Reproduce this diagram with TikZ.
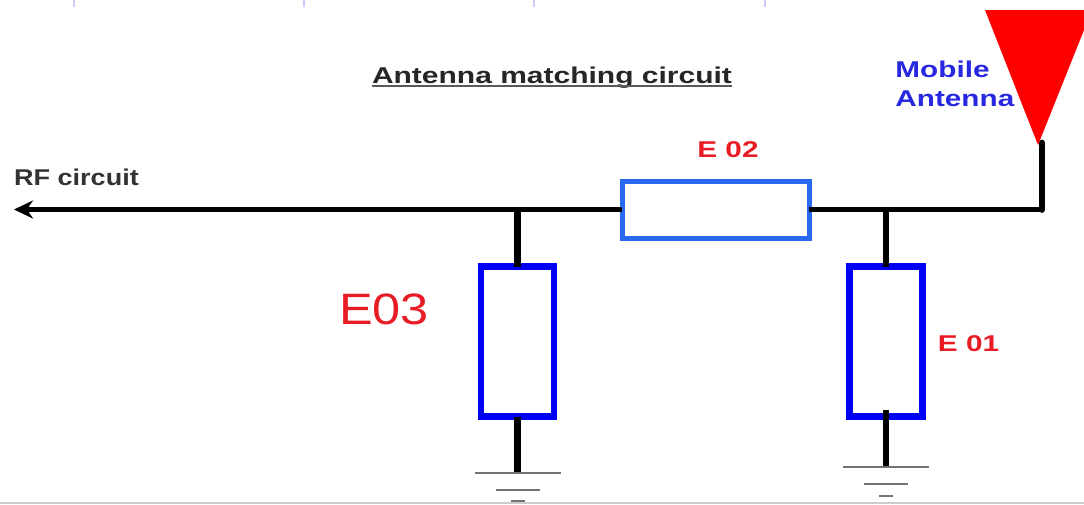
\documentclass[tikz,border=0pt]{standalone}
\usepackage{xcolor}
\usepackage{fontspec}
\setmainfont{Liberation Sans}
\usepackage{tikz}
\usetikzlibrary{arrows.meta, positioning, calc}

\definecolor{elemblue}{RGB}{0,0,245}
\definecolor{seriesblue}{RGB}{40,105,240}
\definecolor{antblue}{RGB}{40,40,225}
\definecolor{elemred}{RGB}{232,28,36}

\begin{document}
\begin{tikzpicture}[x=0.2mm, y=-0.2mm]
	\tikzstyle{shuntbox}=[draw=elemblue, line width=1.3mm, minimum height=30mm, minimum width=14.6mm, outer sep=0pt, fill=none, inner sep=0pt]
	\tikzstyle{seriesbox}=[draw=seriesblue, line width=1mm, minimum height=11.4mm, minimum width=37.4mm, outer sep=0pt, fill=none, inner sep=0pt]
	\tikzstyle{wire}=[line width=1.1mm, black, line join=round]
	\tikzstyle{stemwire}=[line width=1.35mm, black]
	\tikzstyle{gndbar}=[line width=0.4mm, black!55]
	\tikzstyle{rulertick}=[line width=0.25mm, blue!20]
	\tikzstyle{boldlabel}=[font=\fontsize{13}{13}\selectfont\bfseries, inner sep=0pt, anchor=base, xscale=1.3, transform shape]

	\useasboundingbox (0,0) rectangle (1084,504);

	% page ruler and page edge
	\draw [rulertick] (74,0) -- (74,7);
	\draw [rulertick] (304,0) -- (304,7);
	\draw [rulertick] (534,0) -- (534,7);
	\draw [rulertick] (765,0) -- (765,7);
	\draw [line width=0.3mm, black!20] (0,503) -- (1084,503);

	% elements
	\node (e02) at (715.5,209.5) [seriesbox] {};
	\node (e03) at (517.5,341.5) [shuntbox] {};
	\node (e01) at (886,341.5) [shuntbox] {};

	% antenna
	\fill [red] (985,10) -- (1084,10) -- (1084,30) -- (1038,145) -- cycle;
	\coordinate (antbase) at (1042,143);
	\coordinate (wirecorner) at (1042,209.5);
	\coordinate (rfend) at (14,209.5);

	% junctions and ground points
	\coordinate (j03) at (517.5,209.5);
	\coordinate (j01) at (886,209.5);
	\coordinate (gnd03) at (517.5,473);
	\coordinate (gnd01) at (886,467);
	\coordinate (e01foot) at (886,410);

	% wires
	\draw [wire, -{Stealth[length=3.8mm, width=3.6mm]}] (e02.west) -- (rfend);
	\draw [wire] (e02.east) -- (wirecorner);
	\draw [stemwire, line cap=round] (wirecorner) -- (antbase);
	\draw [stemwire] (j03) -- (e03.north);
	\draw [stemwire] (j01) -- (e01.north);
	\draw [stemwire] (e03.south) -- (gnd03);
	\draw [stemwire] (e01foot) -- (gnd01);

	% grounds
	\draw [gndbar] (gnd03)+(-43,0) -- +(43,0);
	\draw [gndbar] (gnd03)+(-22,17) -- +(22,17);
	\draw [gndbar] (gnd03)+(-7,28) -- +(7,28);
	\draw [gndbar] (gnd01)+(-43,0) -- +(43,0);
	\draw [gndbar] (gnd01)+(-22,17) -- +(22,17);
	\draw [gndbar] (gnd01)+(-7,29) -- +(7,29);

	% labels
	\node (title) at (552,83) [boldlabel, xscale=1.01, text=black!85] {Antenna matching circuit};
	\draw [line width=0.4mm, black!65] ([yshift=-0.6mm]title.base west) -- ([yshift=-0.6mm]title.base east);
	\node (rflabel) at (76.5,185) [boldlabel, xscale=0.91, text=black!80] {RF circuit};
	\node (mobile) at (895,77) [boldlabel, anchor=base west, text=antblue] {Mobile};
	\node (antenna) at (895,106) [boldlabel, anchor=base west, text=antblue] {Antenna};
	\node (e02label) at (728,157) [boldlabel, text=elemred] {E 02};
	\node (e01label) at (968.5,351) [boldlabel, text=elemred] {E 01};
	\node (e03label) at (384,309) [font=\fontsize{25}{25}\selectfont, inner sep=0pt, xscale=1.15, transform shape, text=elemred] {E03};
\end{tikzpicture}
\end{document}
